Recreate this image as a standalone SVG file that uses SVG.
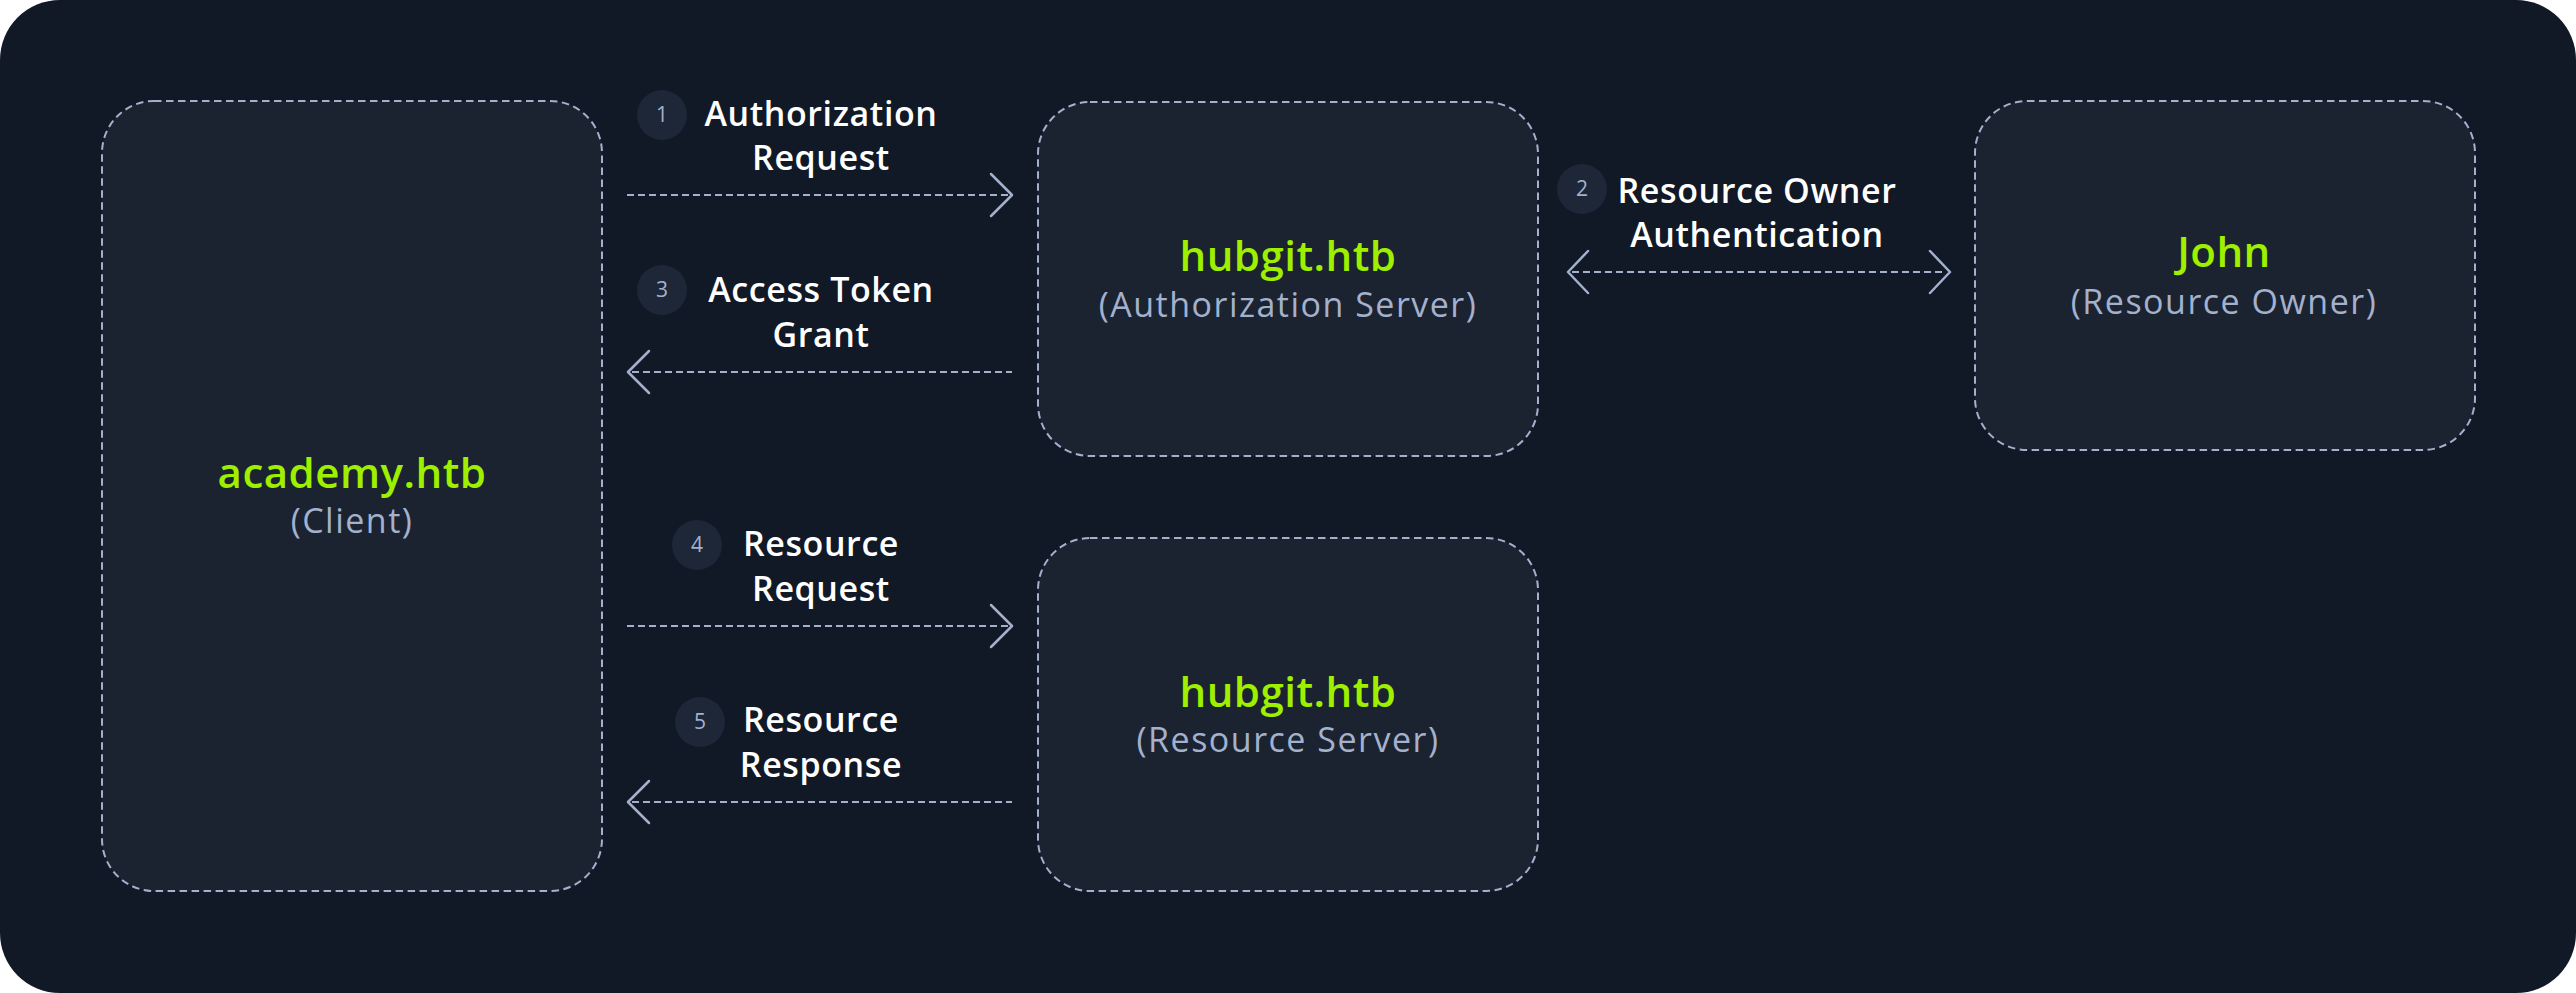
<svg xmlns="http://www.w3.org/2000/svg" width="2576" height="993" viewBox="0 0 2576 993">
<defs>
<style>
.node{fill:#1b2331;stroke:#a4b1cd;stroke-width:2;stroke-dasharray:7.5 4.5}
.conn{fill:none;stroke:#a4b1cd;stroke-width:2;stroke-dasharray:7 4}
.head{fill:none;stroke:#a4b1cd;stroke-width:2.5;stroke-linecap:round;stroke-linejoin:round}
.badge{fill:#1e2737}
.num{font-family:"Open Sans","Liberation Sans",sans-serif;font-size:21px;fill:#a4b1cd;text-anchor:middle}
.lbl{font-family:"Open Sans","Liberation Sans",sans-serif;font-size:34px;font-weight:600;fill:#ffffff;text-anchor:middle;letter-spacing:0.6px}
.title{font-family:"Open Sans","Liberation Sans",sans-serif;font-size:42px;font-weight:600;fill:#9fef00;text-anchor:middle;letter-spacing:0.5px}
.sub{font-family:"Open Sans","Liberation Sans",sans-serif;font-size:34px;font-weight:400;fill:#a4b1cd;text-anchor:middle;letter-spacing:1.5px}
</style>
</defs>
<rect x="0" y="0" width="2576" height="993" fill="#ffffff"/>
<rect x="0" y="0" width="2576" height="993" rx="60" ry="60" fill="#111826"/>

<g id="client">
<rect class="node" x="102" y="101" width="500" height="790" rx="52" ry="52"/>
<text class="title" x="352" y="488">academy.htb</text>
<text class="sub" x="352" y="533">(Client)</text>
</g>

<g id="auth-server">
<rect class="node" x="1038" y="102" width="500" height="354" rx="52" ry="52"/>
<text class="title" x="1288" y="271">hubgit.htb</text>
<text class="sub" x="1288" y="317">(Authorization Server)</text>
</g>

<g id="resource-owner">
<rect class="node" x="1975" y="101" width="500" height="349" rx="52" ry="52"/>
<text class="title" x="2224" y="267">John</text>
<text class="sub" x="2224" y="314">(Resource Owner)</text>
</g>

<g id="resource-server">
<rect class="node" x="1038" y="538" width="500" height="353" rx="52" ry="52"/>
<text class="title" x="1288" y="707">hubgit.htb</text>
<text class="sub" x="1288" y="752">(Resource Server)</text>
</g>

<g id="connectors">
<g id="c1">
<line class="conn" x1="627" y1="195" x2="1008" y2="195"/>
<polyline class="head" points="991,174 1012,195 991,216"/>
<circle class="badge" cx="662" cy="115" r="25"/>
<text class="num" x="662" y="122">1</text>
<text class="lbl" x="821" y="126">Authorization</text>
<text class="lbl" x="821" y="170">Request</text>
</g>
<g id="c2">
<line class="conn" x1="1572" y1="272" x2="1946" y2="272"/>
<polyline class="head" points="1588,251 1568,272 1588,293"/>
<polyline class="head" points="1930,251 1950,272 1930,293"/>
<circle class="badge" cx="1582" cy="189" r="25"/>
<text class="num" x="1582" y="196">2</text>
<text class="lbl" x="1757" y="203">Resource Owner</text>
<text class="lbl" x="1757" y="247">Authentication</text>
</g>
<g id="c3">
<line class="conn" x1="632" y1="372" x2="1012" y2="372"/>
<polyline class="head" points="649,351 628,372 649,393"/>
<circle class="badge" cx="662" cy="290" r="25"/>
<text class="num" x="662" y="297">3</text>
<text class="lbl" x="821" y="302">Access Token</text>
<text class="lbl" x="821" y="347">Grant</text>
</g>
<g id="c4">
<line class="conn" x1="627" y1="626" x2="1008" y2="626"/>
<polyline class="head" points="991,605 1012,626 991,647"/>
<circle class="badge" cx="697" cy="545" r="25"/>
<text class="num" x="697" y="552">4</text>
<text class="lbl" x="821" y="556">Resource</text>
<text class="lbl" x="821" y="601">Request</text>
</g>
<g id="c5">
<line class="conn" x1="632" y1="802" x2="1012" y2="802"/>
<polyline class="head" points="649,781 628,802 649,823"/>
<circle class="badge" cx="700" cy="722" r="25"/>
<text class="num" x="700" y="729">5</text>
<text class="lbl" x="821" y="732">Resource</text>
<text class="lbl" x="821" y="777">Response</text>
</g>
</g>
</svg>
